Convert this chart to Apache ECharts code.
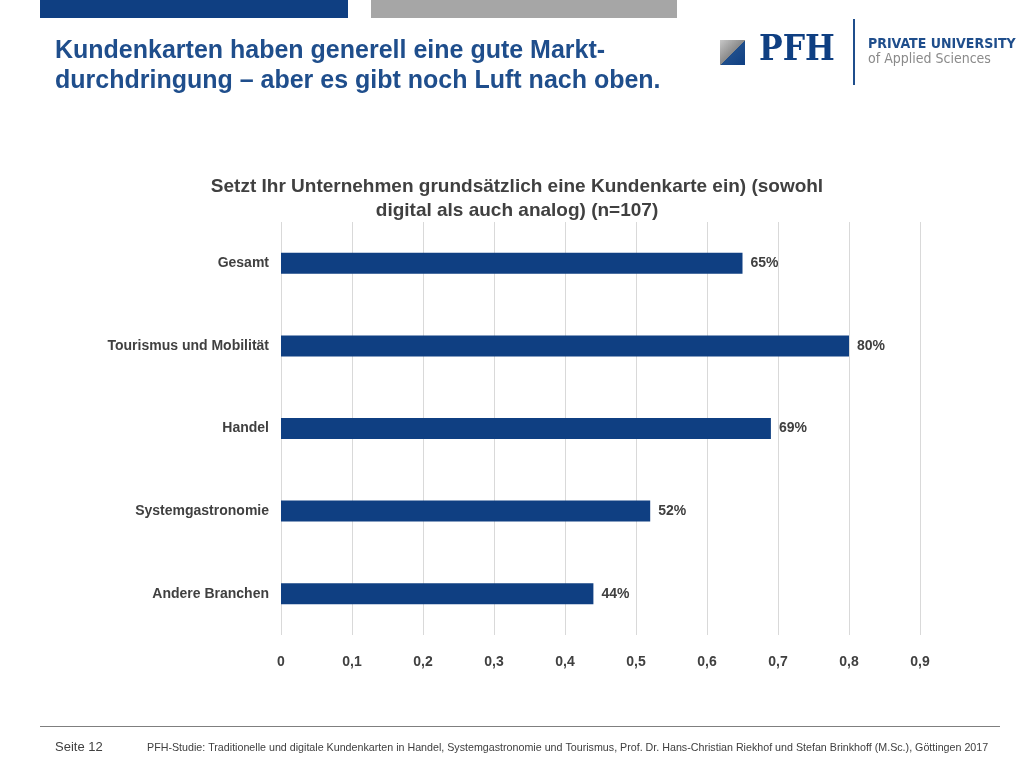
<!DOCTYPE html>
<html><head><meta charset="utf-8">
<script src="https://cdn.jsdelivr.net/npm/echarts@6/dist/echarts.min.js"></script>
<style>html,body{margin:0;padding:0;background:#fff}#c{width:1030px;height:770px}</style>
</head><body><div id="c"></div>
<script>
let categories = ['Gesamt', 'Tourismus und Mobilität', 'Handel', 'Systemgastronomie', 'Andere Branchen'];
let values = [0.65, 0.80, 0.69, 0.52, 0.44];
let xTicks = [0, 0.1, 0.2, 0.3, 0.4, 0.5, 0.6, 0.7, 0.8, 0.9];

let chart = echarts.init(document.getElementById('c'));
let blue = '#0f3f82';
let option = {
  animation: false,
  title: {
    text: 'Setzt Ihr Unternehmen grundsätzlich eine Kundenkarte ein) (sowohl\ndigital als auch analog) (n=107)',
    left: 512, top: 170, textAlign: 'center',
    textStyle: {fontFamily: 'Liberation Sans', fontSize: 19, fontWeight: 'bold', color: '#404040', lineHeight: 24, align: 'center'}
  },
  grid: {left: 281, right: 110, top: 222, bottom: 135},
  xAxis: {
    type: 'value', min: 0, max: 0.9, interval: 0.1,
    axisLine: {show: false}, axisTick: {show: false},
    splitLine: {lineStyle: {color: '#d9d9d9'}},
    axisLabel: {margin: 20, fontFamily: 'Liberation Sans', fontSize: 14, fontWeight: 'bold', color: '#404040',
      formatter: v => String(Math.round(v * 10) / 10).replace('.', ',')}
  },
  yAxis: {
    type: 'category', data: categories, inverse: true,
    axisLine: {show: false}, axisTick: {show: false},
    axisLabel: {margin: 12, padding: [16, 0, 0, 0], fontFamily: 'Liberation Sans', fontSize: 14, fontWeight: 'bold', color: '#404040'}
  },
  series: [{
    type: 'bar', data: values, barWidth: 21,
    itemStyle: {color: blue},
    label: {show: true, position: 'right', distance: 8, fontFamily: 'Liberation Sans', fontSize: 14, fontWeight: 'bold', color: '#404040',
      formatter: p => Math.round(p.value * 100) + '%'}
  }],
  graphic: [
    {type: 'rect', shape: {x: 40, y: 0, width: 308, height: 18}, style: {fill: '#0f3f82'}},
    {type: 'rect', shape: {x: 371, y: 0, width: 306, height: 18}, style: {fill: '#a6a6a6'}},
    {type: 'text', left: 55, top: 36, style: {text: 'Kundenkarten haben generell eine gute Markt-\ndurchdringung – aber es gibt noch Luft nach oben.',
      font: 'bold 25px "Liberation Sans"', fill: '#1f4e8c', lineHeight: 30}},
    {type: 'rect', shape: {x: 720, y: 40, width: 25, height: 25},
      style: {fill: {type: 'linear', x: 0, y: 0, x2: 1, y2: 1, colorStops: [{offset: 0, color: '#c8c8c8'}, {offset: 0.5, color: '#8a8a8a'}, {offset: 0.51, color: '#1f4e8c'}, {offset: 1, color: '#0f3f82'}]}}},
    {type: 'text', left: 759, top: 33, style: {text: 'PFH', font: 'bold 35px "DejaVu Serif Condensed", "DejaVu Serif"', fill: '#0f3f82'}},
    {type: 'rect', shape: {x: 853, y: 19, width: 2, height: 66}, style: {fill: '#1f4e8c'}},
    {type: 'text', left: 868, top: 37, style: {text: 'PRIVATE UNIVERSITY', font: 'bold 14px "Liberation Sans Narrow", "DejaVu Sans Condensed"', fill: '#1f4e8c'}},
    {type: 'text', left: 868, top: 52, style: {text: 'of Applied Sciences', font: '14px "DejaVu Sans Condensed", "Liberation Sans"', fill: '#8a8a8a'}},
    {type: 'rect', shape: {x: 40, y: 726, width: 960, height: 1}, style: {fill: '#7f7f7f'}},
    {type: 'text', left: 55, top: 741, style: {text: 'Seite 12', font: '13px "Liberation Sans"', fill: '#404040'}},
    {type: 'text', left: 147, top: 743, style: {text: 'PFH-Studie: Traditionelle und digitale Kundenkarten in Handel, Systemgastronomie und Tourismus, Prof. Dr. Hans-Christian Riekhof und Stefan Brinkhoff (M.Sc.), Göttingen 2017',
      font: '10.7px "Liberation Sans"', fill: '#404040'}}
  ]
};
chart.setOption(option);
</script></body></html>
